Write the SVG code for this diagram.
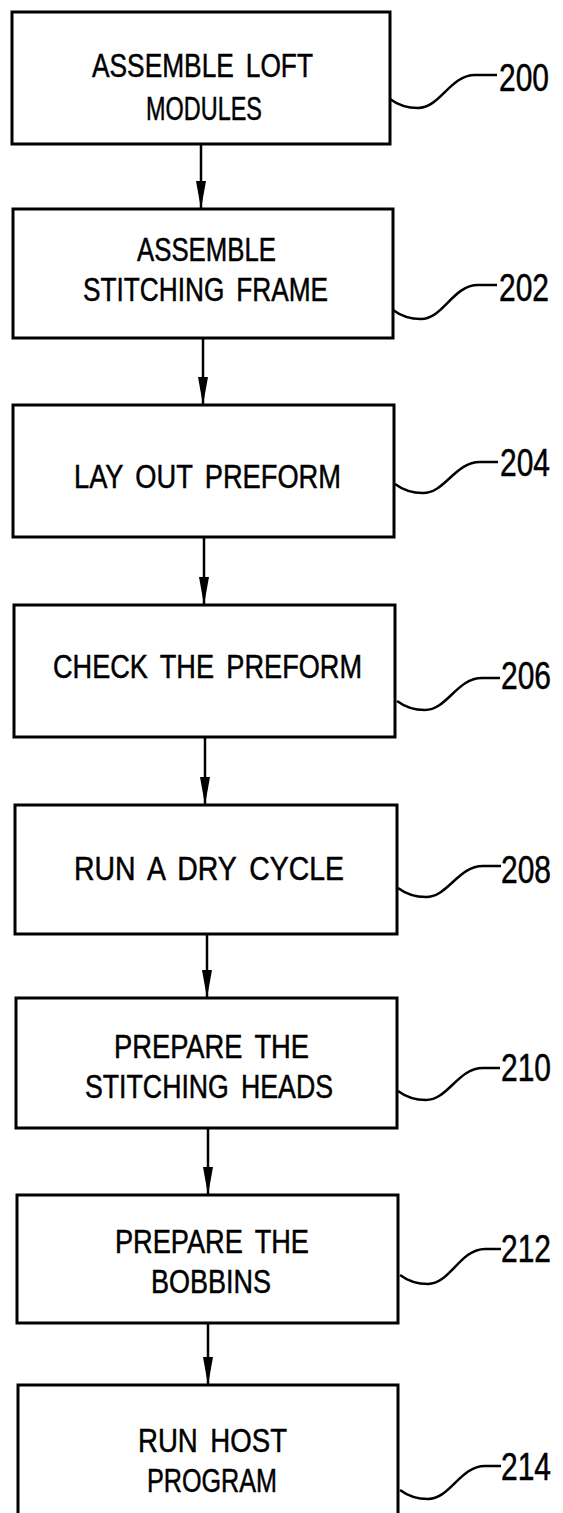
<svg xmlns="http://www.w3.org/2000/svg" width="563" height="1513" viewBox="0 0 563 1513">
<style>
.box{fill:#fff;stroke:#000;stroke-width:3}
.t{font-family:"Liberation Sans",Arial,sans-serif;font-size:34px;fill:#000;stroke:#000;stroke-width:0.5;word-spacing:6px}
.n{font-family:"Liberation Sans",Arial,sans-serif;font-size:38px;fill:#000;stroke:#000;stroke-width:0.5}
.lead{fill:none;stroke:#000;stroke-width:2.5}
.conn{stroke:#000;stroke-width:2.5;fill:none}
</style>
<defs>
<marker id="ah" markerUnits="userSpaceOnUse" viewBox="0 0 28 10" markerWidth="28" markerHeight="10" refX="28" refY="5" orient="auto">
<path d="M0,0 L28,5 L0,10 z" fill="#000"/>
</marker>
</defs>
<rect width="563" height="1513" fill="#fff"/>
<g id="connectors">
<line class="conn" x1="201" y1="144" x2="201" y2="209" marker-end="url(#ah)"/>
<line class="conn" x1="203" y1="338" x2="203" y2="405" marker-end="url(#ah)"/>
<line class="conn" x1="204" y1="537" x2="204" y2="605" marker-end="url(#ah)"/>
<line class="conn" x1="205" y1="737" x2="205" y2="805" marker-end="url(#ah)"/>
<line class="conn" x1="207" y1="934" x2="207" y2="998" marker-end="url(#ah)"/>
<line class="conn" x1="208" y1="1128" x2="208" y2="1195" marker-end="url(#ah)"/>
<line class="conn" x1="208" y1="1323" x2="208" y2="1385" marker-end="url(#ah)"/>
</g>
<g id="n200">
<rect class="box" x="12" y="12" width="378" height="132"/>
<text class="t" x="92" y="77" textLength="221" lengthAdjust="spacingAndGlyphs">ASSEMBLE LOFT</text>
<text class="t" x="146" y="120" textLength="116" lengthAdjust="spacingAndGlyphs">MODULES</text>
<path class="lead" d="M390,99 c8,6 18,9 28,9 c22,0 32,-33 57,-33 l22,0"/>
<text class="n" x="499" y="91" textLength="50" lengthAdjust="spacingAndGlyphs">200</text>
</g>
<g id="n202">
<rect class="box" x="13" y="209" width="380" height="129"/>
<text class="t" x="137" y="261" textLength="139" lengthAdjust="spacingAndGlyphs">ASSEMBLE</text>
<text class="t" x="83" y="301" textLength="245" lengthAdjust="spacingAndGlyphs">STITCHING FRAME</text>
<path class="lead" d="M393,310 c8,6 18,9 28,9 c22,0 32,-34 57,-34 l19,0"/>
<text class="n" x="499" y="301" textLength="50" lengthAdjust="spacingAndGlyphs">202</text>
</g>
<g id="n204">
<rect class="box" x="13" y="405" width="381" height="132"/>
<text class="t" x="74" y="488" textLength="267" lengthAdjust="spacingAndGlyphs">LAY OUT PREFORM</text>
<path class="lead" d="M395,484 c8,6 18,9 28,9 c22,0 32,-31 57,-31 l18,0"/>
<text class="n" x="500" y="476" textLength="50" lengthAdjust="spacingAndGlyphs">204</text>
</g>
<g id="n206">
<rect class="box" x="14" y="605" width="381" height="132"/>
<text class="t" x="53" y="678" textLength="309" lengthAdjust="spacingAndGlyphs">CHECK THE PREFORM</text>
<path class="lead" d="M397,701 c8,6 18,9 28,9 c22,0 32,-32 57,-32 l18,0"/>
<text class="n" x="501" y="689" textLength="50" lengthAdjust="spacingAndGlyphs">206</text>
</g>
<g id="n208">
<rect class="box" x="15" y="805" width="382" height="129"/>
<text class="t" x="74" y="880" textLength="270" lengthAdjust="spacingAndGlyphs">RUN A DRY CYCLE</text>
<path class="lead" d="M398,888 c8,6 18,9 28,9 c22,0 32,-31 57,-31 l18,0"/>
<text class="n" x="501" y="883" textLength="50" lengthAdjust="spacingAndGlyphs">208</text>
</g>
<g id="n210">
<rect class="box" x="16" y="998" width="381" height="130"/>
<text class="t" x="114" y="1058" textLength="195" lengthAdjust="spacingAndGlyphs">PREPARE THE</text>
<text class="t" x="85" y="1098" textLength="248" lengthAdjust="spacingAndGlyphs">STITCHING HEADS</text>
<path class="lead" d="M398,1091 c8,6 18,9 28,9 c22,0 32,-32 57,-32 l17,0"/>
<text class="n" x="501" y="1081" textLength="50" lengthAdjust="spacingAndGlyphs">210</text>
</g>
<g id="n212">
<rect class="box" x="17" y="1195" width="381" height="128"/>
<text class="t" x="115" y="1253" textLength="194" lengthAdjust="spacingAndGlyphs">PREPARE THE</text>
<text class="t" x="151" y="1293" textLength="120" lengthAdjust="spacingAndGlyphs">BOBBINS</text>
<path class="lead" d="M400,1275 c8,6 18,9 28,9 c22,0 32,-35 57,-35 l16,0"/>
<text class="n" x="501" y="1262" textLength="50" lengthAdjust="spacingAndGlyphs">212</text>
</g>
<g id="n214">
<rect class="box" x="18" y="1385" width="380" height="160"/>
<text class="t" x="138" y="1452" textLength="149" lengthAdjust="spacingAndGlyphs">RUN HOST</text>
<text class="t" x="147" y="1492" textLength="130" lengthAdjust="spacingAndGlyphs">PROGRAM</text>
<path class="lead" d="M400,1490 c8,6 18,9 28,9 c22,0 32,-33 57,-33 l16,0"/>
<text class="n" x="501" y="1480" textLength="50" lengthAdjust="spacingAndGlyphs">214</text>
</g>
</svg>
